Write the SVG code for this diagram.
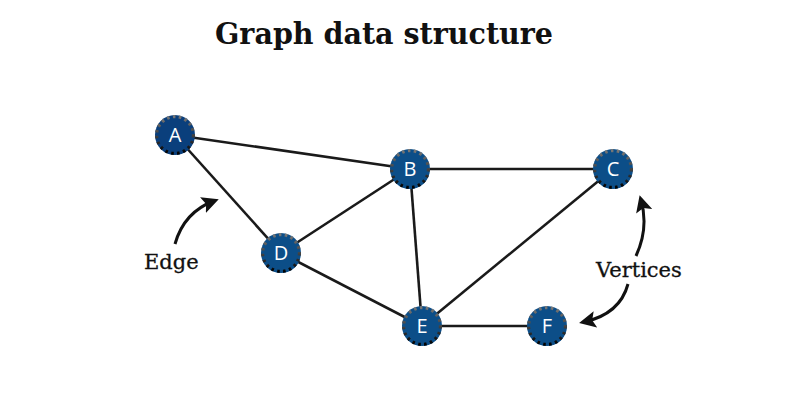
<svg xmlns="http://www.w3.org/2000/svg" width="800" height="400" viewBox="0 0 800 400">
<defs>
<linearGradient id="rim" x1="0" y1="0" x2="0" y2="1">
<stop offset="0" stop-color="#777"/>
<stop offset="0.5" stop-color="#444"/>
<stop offset="1" stop-color="#000"/>
</linearGradient>
<marker id="ah" viewBox="0 0 10 10" refX="7" refY="5" markerWidth="5.6" markerHeight="5.6" orient="auto" markerUnits="strokeWidth">
<path d="M0,0 L10,5 L0,10 L2,5 Z" fill="#111"/>
</marker>
</defs>
<style>
.title{font-family:"DejaVu Serif","Liberation Serif",serif;font-weight:bold;font-size:30px;fill:#111}
.lbl{font-family:"DejaVu Serif","Liberation Serif",serif;font-size:21px;fill:#111;stroke:#111;stroke-width:0.3}
.edge{stroke:#1a1a1a;stroke-width:2.6;fill:none}
.ann{stroke:#111;stroke-width:3;fill:none;marker-end:url(#ah)}
.node .bg{fill:#0c4e88}
.node .rim{fill:none;stroke:url(#rim);stroke-width:3.2;stroke-dasharray:2.6 3.4}
.node text{font-family:"Open Sans","Noto Sans",sans-serif;font-size:20px;font-weight:500;fill:#fff;text-anchor:middle}
</style>
<rect width="800" height="400" fill="#fff"/>
<text class="title" x="384" y="44" text-anchor="middle" textLength="338" lengthAdjust="spacingAndGlyphs">Graph data structure</text>
<g id="connectors">
<line class="edge" x1="175" y1="135" x2="410" y2="169"/>
<line class="edge" x1="175" y1="135" x2="281" y2="253"/>
<line class="edge" x1="410" y1="169" x2="613" y2="169"/>
<line class="edge" x1="281" y1="253" x2="410" y2="169"/>
<line class="edge" x1="281" y1="253" x2="422" y2="326"/>
<line class="edge" x1="410" y1="169" x2="422" y2="326"/>
<line class="edge" x1="422" y1="326" x2="613" y2="169"/>
<line class="edge" x1="422" y1="326" x2="547" y2="326"/>
</g>
<g id="annotations">
<path class="ann" d="M175,244 Q184,212 214,201"/>
<path class="ann" d="M636,256 Q649,228 641,200"/>
<path class="ann" d="M628,284 Q620,314 584,322"/>
<text class="lbl" x="144" y="269">Edge</text>
<text class="lbl" x="596" y="277">Vertices</text>
</g>
<g id="node-A" class="node"><circle class="bg" cx="175" cy="135" r="20" style="fill:#0a3f7c"/><circle class="rim" cx="175" cy="135" r="18.4"/><text x="175" y="142">A</text></g>
<g id="node-B" class="node"><circle class="bg" cx="410" cy="169" r="20"/><circle class="rim" cx="410" cy="169" r="18.4"/><text x="410" y="176">B</text></g>
<g id="node-C" class="node"><circle class="bg" cx="613" cy="169" r="20"/><circle class="rim" cx="613" cy="169" r="18.4"/><text x="613" y="176">C</text></g>
<g id="node-D" class="node"><circle class="bg" cx="281" cy="253" r="20"/><circle class="rim" cx="281" cy="253" r="18.4"/><text x="281" y="260">D</text></g>
<g id="node-E" class="node"><circle class="bg" cx="422" cy="326" r="20"/><circle class="rim" cx="422" cy="326" r="18.4"/><text x="422" y="333">E</text></g>
<g id="node-F" class="node"><circle class="bg" cx="547" cy="326" r="20"/><circle class="rim" cx="547" cy="326" r="18.4"/><text x="547" y="333">F</text></g>
</svg>
